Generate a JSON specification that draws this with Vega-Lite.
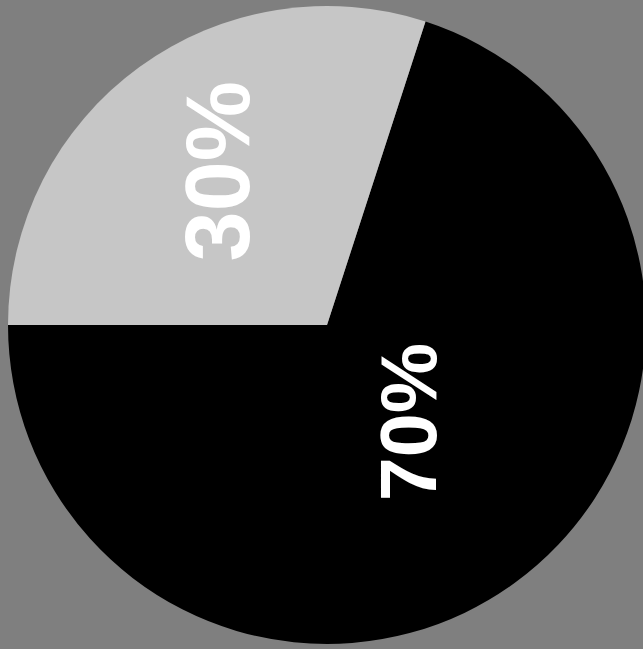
{
  "$schema": "https://vega.github.io/schema/vega-lite/v6.json",
  "width": 654,
  "height": 650,
  "autosize": "none",
  "padding": 0,
  "background": "#7f7f7f",
  "view": {"stroke": null},
  "data": {
    "values": [
      {"category": "A", "value": 70, "label": "70%", "order": 1},
      {"category": "B", "value": 30, "label": "30%", "order": 2}
    ]
  },
  "encoding": {
    "theta": {"field": "value", "type": "quantitative", "stack": true, "scale": {"range": [0.314, 6.597]}},
    "order": {"field": "order", "type": "quantitative"}
  },
  "layer": [
    {
      "mark": {"type": "arc", "outerRadius": 319},
      "encoding": {
        "color": {"field": "category", "type": "nominal", "scale": {"domain": ["A", "B"], "range": ["#000000", "#c6c6c6"]}, "legend": null}
      }
    },
    {
      "mark": {"type": "text", "radius": 186, "thetaOffset": 0.03, "angle": 270, "align": "center", "baseline": "middle", "font": "Liberation Sans", "fontWeight": "bold", "fontSize": 90, "color": "#ffffff"},
      "encoding": {
        "text": {"condition": {"test": "datum.category == 'B'", "field": "label"}, "value": ""}
      }
    },
    {
      "mark": {"type": "text", "radius": 129, "thetaOffset": -0.09, "angle": 270, "align": "center", "baseline": "middle", "font": "Liberation Sans", "fontWeight": "bold", "fontSize": 79, "color": "#ffffff"},
      "encoding": {
        "text": {"condition": {"test": "datum.category == 'A'", "field": "label"}, "value": ""}
      }
    }
  ]
}
